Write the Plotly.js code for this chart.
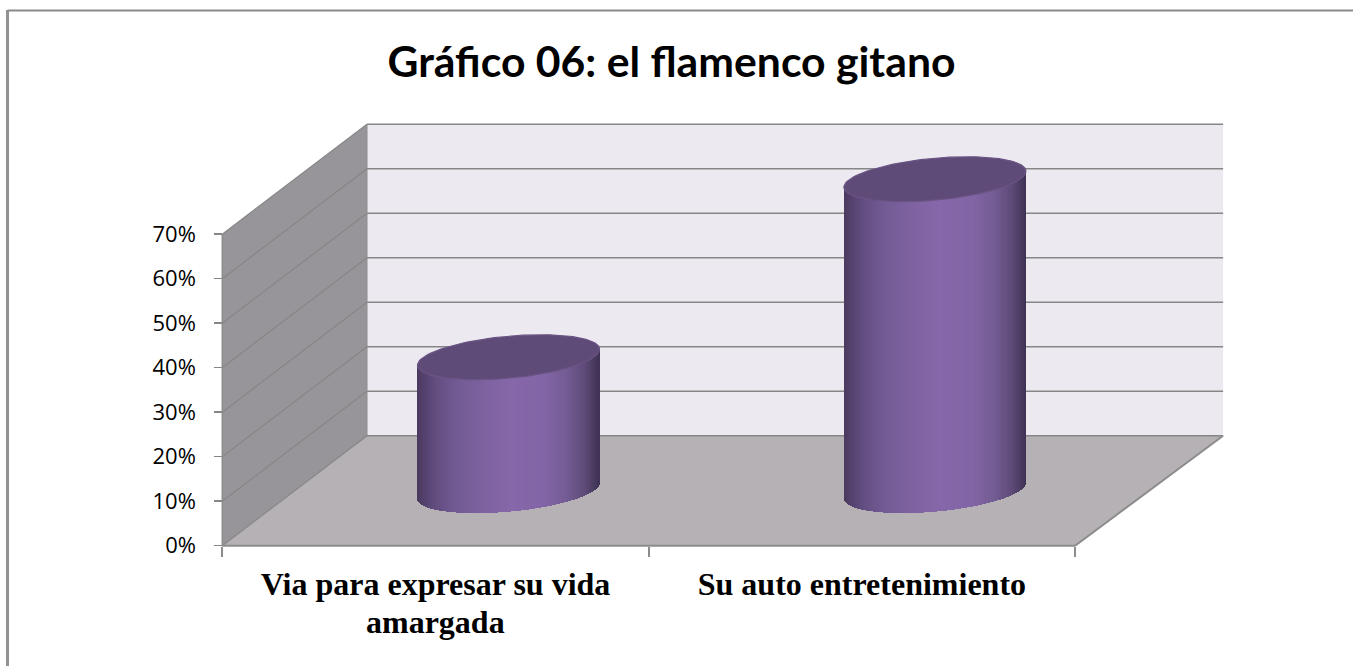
<!DOCTYPE html>
<html>
<head>
<meta charset="utf-8">
<script src="https://cdn.plot.ly/plotly-3.0.1.min.js"></script>
<style>html,body{margin:0;padding:0;background:#fff;overflow:hidden}#chart{width:1353px;height:666px}</style>
</head>
<body>
<div id="chart"></div>
<script>
// ---- data ----
const chartTitle = "Gráfico 06: el flamenco gitano";
const categories = ["Via para expresar su vida", "Su auto entretenimiento"];
const categoryContinuation = ["amargada", ""];
const values = [30, 70];
const yTicks = [0, 10, 20, 30, 40, 50, 60, 70];
const yTickLabels = ["0%", "10%", "20%", "30%", "40%", "50%", "60%", "70%"];

// ---- styling ----
const W = 1353, H = 666;
const GRID = "#868686";
const WALL_BACK = "#ece9f0", WALL_SIDE = "#97959a", FLOOR = "#b5b1b5";
const TOP_FACE = "#5f4b78";
const SHADE = [[0,"#4a3a5e"],[0.03,"#523f6a"],[0.10,"#624d80"],[0.22,"#725b94"],[0.40,"#8063a2"],[0.52,"#8667a9"],[0.70,"#8265a6"],[0.82,"#745c94"],[0.92,"#5e4b79"],[0.97,"#4a3b60"],[1,"#3f3255"]];

// axis scale: one category = 426.4 px, ten percent = 44.5 px
const pxPerCat = 426.4, pxPerPct = 4.45;
const x0Px = 222.3, y0Px = 545.7;
const xRange = [0.5 - x0Px / pxPerCat, 0.5 + (W - x0Px) / pxPerCat];
const yRange = [-(H - y0Px) / pxPerPct, y0Px / pxPerPct];
const yMax = yTicks[yTicks.length - 1];

// depth of the 3-D box, in axis units
const depthX = 144.7 / pxPerCat, depthXRight = 148 / pxPerCat, depthY = 110 / pxPerPct;
const xLeft = 0.5, xRight = 0.5 + categories.length;

// cylinder proportions
const radius = 91 / pxPerCat;
const shearPct = 8 / pxPerPct, minorPct = 21 / pxPerPct;
const centerDX = 73 / pxPerCat, centerDY = 55 / pxPerPct;

function hex(c){return [1,3,5].map(i=>parseInt(c.substr(i,2),16));}
function shade(f){
  for(let i=1;i<SHADE.length;i++){
    if(f<=SHADE[i][0]){
      const a=SHADE[i-1],b=SHADE[i],t=(f-a[0])/(b[0]-a[0]);
      const ca=hex(a[1]),cb=hex(b[1]);
      return "rgb("+ca.map((v,k)=>Math.round(v+(cb[k]-v)*t)).join(",")+")";
    }
  }
  return SHADE[SHADE.length-1][1];
}

const traces = [];
values.forEach((v,i)=>{
  const cx = i + 1 + centerDX, cy = centerDY;
  const strips = 182;
  const xs=[],bases=[],hs=[],cols=[];
  const w = 2*radius/strips;
  for(let s=0;s<strips;s++){
    const f=(s+0.5)/strips;
    const c=2*f-1;                       // cos t
    const sn=Math.sqrt(1-c*c);
    xs.push(cx+radius*c);
    const centre=cy+shearPct*c;
    const low=centre-minorPct*sn;
    bases.push(low);
    hs.push(centre+v-low);
    cols.push(shade(f));
  }
  traces.push({type:"bar",x:xs,y:hs,base:bases,width:xs.map(()=>w*1.4),opacity:1,
    marker:{color:cols,opacity:1,line:{width:0}},hoverinfo:"skip",showlegend:false,name:categories[i]});
  // top face
  const ex=[],ey=[];
  for(let d=0;d<=360;d+=3){
    const t=d*Math.PI/180;
    ex.push(cx+radius*Math.cos(t));
    ey.push(cy+v+shearPct*Math.cos(t)+minorPct*Math.sin(t));
  }
  traces.push({type:"scatter",mode:"lines",x:ex,y:ey,fill:"toself",fillcolor:TOP_FACE,
    line:{color:"#6a5485",width:1.2},hoverinfo:"skip",showlegend:false,cliponaxis:false});
});

function poly(pts){return "M"+pts.map(p=>p[0]+","+p[1]).join("L")+"Z";}
const lineStyle={color:GRID,width:1.6};
const shapes=[
  {type:"path",layer:"below",xref:"x",yref:"y",line:{width:0},fillcolor:WALL_BACK,
   path:poly([[xLeft+depthX,depthY],[xRight+depthXRight,depthY],[xRight+depthXRight,yMax+depthY],[xLeft+depthX,yMax+depthY]])},
  {type:"path",layer:"below",xref:"x",yref:"y",line:{width:0},fillcolor:WALL_SIDE,
   path:poly([[xLeft,0],[xLeft+depthX,depthY],[xLeft+depthX,yMax+depthY],[xLeft,yMax]])},
  {type:"path",layer:"below",xref:"x",yref:"y",line:{width:0},fillcolor:FLOOR,
   path:poly([[xLeft,0],[xRight,0],[xRight+depthXRight,depthY],[xLeft+depthX,depthY]])}
];
yTicks.forEach(t=>{
  shapes.push({type:"line",layer:"below",xref:"x",yref:"y",x0:xLeft+depthX,x1:xRight+depthXRight,y0:t+depthY,y1:t+depthY,line:lineStyle});
  shapes.push({type:"line",layer:"below",xref:"x",yref:"y",x0:xLeft,x1:xLeft+depthX,y0:t,y1:t+depthY,line:{color:GRID,width:1.2}});
});
// axis lines and box edges
shapes.push({type:"line",layer:"below",xref:"x",yref:"y",x0:xLeft,x1:xLeft,y0:0,y1:yMax,line:{color:"#8c8c8c",width:1.5}});
shapes.push({type:"line",layer:"below",xref:"x",yref:"y",x0:xLeft,x1:xRight,y0:0,y1:0,line:{color:"#8c8c8c",width:2}});
shapes.push({type:"line",layer:"below",xref:"x",yref:"y",x0:xRight,x1:xRight+depthXRight,y0:0,y1:depthY,line:{color:"#8c8c8c",width:2}});
shapes.push({type:"line",layer:"below",xref:"x",yref:"y",x0:xLeft+depthX,x1:xLeft+depthX,y0:depthY,y1:yMax+depthY,line:{color:"#8c8c8c",width:1}});
// outer frame of the picture
shapes.push({type:"line",xref:"paper",yref:"paper",x0:7.5/W,x1:1,y0:1-10.5/H,y1:1-10.5/H,line:{color:"#8a8a8a",width:2}});
shapes.push({type:"line",xref:"paper",yref:"paper",x0:7.5/W,x1:7.5/W,y0:1-10/H,y1:0,line:{color:"#929292",width:3}});

const annotations=categoryContinuation.map((t,i)=>({
  text:"<b>"+t+"</b>",raw:t,xref:"x",yref:"paper",x:i+1,y:1-622/H,yanchor:"middle",xanchor:"center",showarrow:false,
  font:{family:"'Liberation Serif',serif",size:32,color:"#000"}
})).filter(a=>a.raw).map(a=>{delete a.raw;return a;});

const layout={
  width:W,height:H,margin:{l:0,r:0,t:0,b:0},paper_bgcolor:"#fff",plot_bgcolor:"rgba(0,0,0,0)",
  showlegend:false,barmode:"overlay",bargap:0,bargroupgap:0,dragmode:false,
  title:{text:"<b>"+chartTitle+"</b>",x:671.5/W,xanchor:"center",xref:"paper",y:1-62/H,yanchor:"middle",yref:"paper",
    font:{family:"Lato,'Open Sans',sans-serif",size:42.7,color:"#000"}},
  xaxis:{range:xRange,domain:[0,1],showgrid:false,zeroline:false,showline:false,fixedrange:true,
    anchor:"free",position:1-y0Px/H,tickmode:"array",tickvals:categories.map((c,i)=>i+1),ticktext:categories.map(c=>"<b>"+c+"</b>"),
    ticks:"",ticklen:0,ticklabelstandoff:16,
    minor:{tickmode:"array",tickvals:[xLeft,xLeft+1,xRight],ticks:"outside",ticklen:10,tickcolor:"#8c8c8c",tickwidth:2,showgrid:false},
    tickfont:{family:"'Liberation Serif',serif",size:32,color:"#000"},automargin:false},
  yaxis:{range:yRange,domain:[0,1],showgrid:false,zeroline:false,showline:false,fixedrange:true,
    anchor:"free",position:x0Px/W,tickmode:"array",tickvals:yTicks,ticktext:yTickLabels,
    ticks:"outside",ticklen:8,tickcolor:GRID,tickwidth:1.5,ticklabelstandoff:14,
    tickfont:{family:"'Open Sans',sans-serif",size:22,color:"#000"},automargin:false},
  shapes:shapes,annotations:annotations
};
Plotly.newPlot("chart",traces,layout,{displayModeBar:false,staticPlot:true});
</script>
</body>
</html>
